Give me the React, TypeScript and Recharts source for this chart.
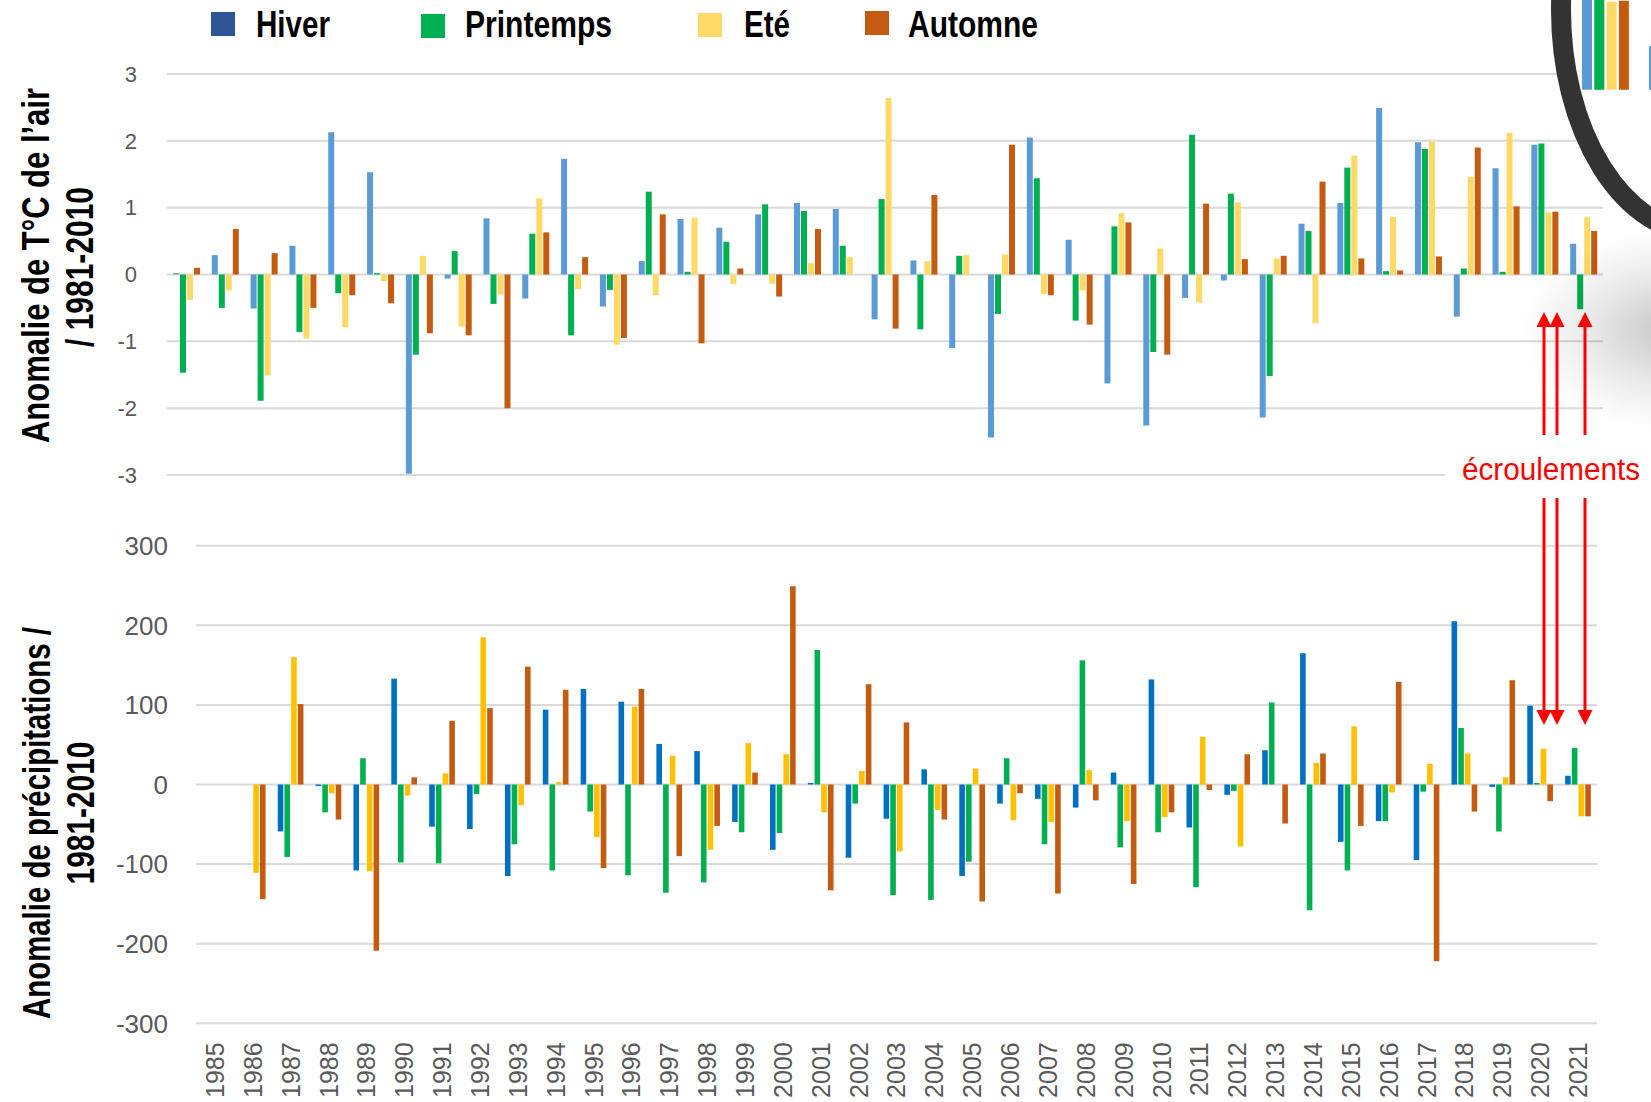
import React from "react";
import { BarChart, Bar, XAxis, YAxis, CartesianGrid } from "recharts";

// années (axe commun)
const years = [
  1985, 1986, 1987, 1988, 1989, 1990, 1991, 1992, 1993, 1994, 1995, 1996, 1997,
  1998, 1999, 2000, 2001, 2002, 2003, 2004, 2005, 2006, 2007, 2008, 2009, 2010,
  2011, 2012, 2013, 2014, 2015, 2016, 2017, 2018, 2019, 2020, 2021,
];

const seasons = ["Hiver", "Printemps", "Eté", "Automne"];
const keys = ["hiver", "printemps", "ete", "automne"];

// anomalie de température de l'air (°C) / 1981-2010
const tempHiver = [
  0.02, 0.29, -0.51, 0.43, 2.13, 1.53, -2.98, -0.06, 0.84, -0.36, 1.73, -0.48, 0.2,
  0.83, 0.7, 0.9, 1.07, 0.98, -0.67, 0.21, -1.1, -2.44, 2.05, 0.52, -1.63, -2.26,
  -0.35, -0.09, -2.14, 0.76, 1.07, 2.49, 1.98, -0.63, 1.59, 1.94, 0.46,
];
const tempPrintemps = [
  -1.47, -0.5, -1.89, -0.86, -0.28, 0.02, -1.2, 0.35, -0.44, 0.61, -0.91, -0.23, 1.24,
  0.04, 0.49, 1.05, 0.95, 0.43, 1.13, -0.82, 0.28, -0.59, 1.44, -0.69, 0.72, -1.16,
  2.09, 1.21, -1.52, 0.65, 1.6, 0.05, 1.88, 0.09, 0.04, 1.96, -0.52,
];
const tempEte = [
  -0.38, -0.24, -1.51, -0.96, -0.79, -0.1, 0.28, -0.78, -0.3, 1.14, -0.22, -1.05, -0.31,
  0.85, -0.14, -0.14, 0.17, 0.26, 2.64, 0.2, 0.29, 0.3, -0.29, -0.24, 0.92, 0.39,
  -0.42, 1.08, 0.24, -0.73, 1.78, 0.86, 1.99, 1.46, 2.12, 0.93, 0.86,
];
const tempAutomne = [
  0.1, 0.68, 0.32, -0.5, -0.31, -0.43, -0.88, -0.91, -2.0, 0.63, 0.26, -0.95, 0.9,
  -1.03, 0.09, -0.33, 0.68, 0, -0.81, 1.19, 0, 1.94, -0.31, -0.75, 0.78, -1.2,
  1.06, 0.23, 0.28, 1.39, 0.24, 0.06, 0.27, 1.9, 1.02, 0.94, 0.65,
];

// anomalie de précipitations (mm) / 1981-2010
const precipHiver = [
  null, null, -59, -2, -108, 133, -53, -56, -115, 94, 120, 104, 51,
  42, -47, -82, 2, -92, -43, 19, -115, -24, -18, -29, 15, 132,
  -54, -13, 43, 165, -72, -46, -95, 205, -3, 99, 11,
];
const precipPrintemps = [
  null, null, -91, -35, 33, -98, -99, -12, -75, -108, -34, -114, -136,
  -123, -60, -61, 169, -24, -139, -145, -97, 33, -75, 156, -79, -60,
  -129, -8, 103, -158, -108, -46, -9, 71, -59, 2, 46,
];
const precipEte = [
  null, -111, 160, -11, -109, -14, 14, 185, -26, 3, -66, 98, 36,
  -82, 52, 38, -35, 17, -84, -32, 20, -45, -47, 18, -46, -41,
  60, -78, 0, 27, 73, -10, 26, 39, 9, 45, -40,
];
const precipAutomne = [
  null, -144, 101, -44, -209, 9, 80, 96, 148, 119, -105, 120, -90,
  -52, 15, 249, -133, 126, 78, -44, -147, -11, -137, -20, -125, -35,
  -7, 38, -49, 39, -52, 129, -222, -34, 131, -21, -40,
];

const tempTicks = [-3, -2, -1, 0, 1, 2, 3];
const precipTicks = [-300, -200, -100, 0, 100, 200, 300];

const legendColors = ["#2F5597", "#00B050", "#FFD966", "#C55A11"];
const tempColors = ["#5B9BD5", "#00B050", "#FFD966", "#C55A11"];
const precipColors = ["#0070C0", "#00B050", "#FFC000", "#C55A11"];

const tempData = years.map((year, i) => ({
  year: String(year),
  hiver: tempHiver[i],
  printemps: tempPrintemps[i],
  ete: tempEte[i],
  automne: tempAutomne[i],
}));

const precipData = years.map((year, i) => ({
  year: String(year),
  hiver: precipHiver[i],
  printemps: precipPrintemps[i],
  ete: precipEte[i],
  automne: precipAutomne[i],
}));

const FONT = "'Liberation Sans', Arial, sans-serif";
const GRID = "#D9D9D9";
const TICK = "#595959";

// legend layout: [square x, square y, text x, text width]
const legendLayout = [
  [211, 12, 256, 74],
  [421, 14, 465, 147],
  [698, 13, 744, 46],
  [865, 11, 908, 130],
];

function YearTick(props: any) {
  const { x, y, payload } = props;
  return (
    <text
      x={x}
      y={y + 19}
      dy="0.36em"
      transform={`rotate(-90, ${x}, ${y + 19})`}
      textAnchor="end"
      fill={TICK}
      fontSize={25}
      fontFamily={FONT}
    >
      {payload.value}
    </text>
  );
}

function Arrow({ x, y1, y2 }: { x: number; y1: number; y2: number }) {
  // y2 is the tip
  const dir = y2 < y1 ? 1 : -1;
  const base = y2 + dir * 15;
  return (
    <g>
      <line x1={x} y1={y1} x2={x} y2={base} stroke="#FF0000" strokeWidth={3} />
      <polygon points={`${x},${y2} ${x - 7.5},${base} ${x + 7.5},${base}`} fill="#FF0000" />
    </g>
  );
}

export default function App() {
  return (
    <div
      style={{
        position: "fixed",
        left: 0,
        top: 0,
        width: 1651,
        height: 1102,
        overflow: "hidden",
        background: "#fff",
      }}
    >
      {/* température */}
      <div style={{ position: "absolute", left: 0, top: 0 }}>
        <BarChart
          width={1651}
          height={500}
          data={tempData}
          margin={{ top: 74, right: 48, bottom: 25, left: 107 }}
          barSize={6}
          barGap={1}
        >
          <CartesianGrid vertical={false} stroke={GRID} strokeWidth={2} />
          <XAxis dataKey="year" hide />
          <YAxis
            domain={[-3, 3]}
            ticks={tempTicks}
            width={60}
            axisLine={false}
            tickLine={false}
            tickSize={0}
            tickMargin={30}
            tick={{ fill: TICK, fontSize: 22, fontFamily: FONT }}
          />
          {keys.map((k, i) => (
            <Bar key={k} dataKey={k} name={seasons[i]} fill={tempColors[i]} isAnimationActive={false} />
          ))}
        </BarChart>
      </div>

      {/* précipitations */}
      <div style={{ position: "absolute", left: 0, top: 500 }}>
        <BarChart
          width={1651}
          height={602}
          data={precipData}
          margin={{ top: 45.7, right: 54, bottom: 8.7, left: 136 }}
          barSize={5.6}
          barGap={1.1}
        >
          <CartesianGrid vertical={false} stroke={GRID} strokeWidth={2} />
          <XAxis
            dataKey="year"
            interval={0}
            height={70}
            axisLine={false}
            tickLine={false}
            tickSize={0}
            tickMargin={0}
            tick={(p: any) => <YearTick {...p} />}
          />
          <YAxis
            domain={[-300, 300]}
            ticks={precipTicks}
            width={60}
            axisLine={false}
            tickLine={false}
            tickSize={0}
            tickMargin={28}
            tick={{ fill: TICK, fontSize: 26, fontFamily: FONT }}
          />
          {keys.map((k, i) => (
            <Bar key={k} dataKey={k} name={seasons[i]} fill={precipColors[i]} isAnimationActive={false} />
          ))}
        </BarChart>
      </div>

      {/* loupe : vue agrandie 2019-2021 */}
      <div
        style={{
          position: "absolute",
          left: 1450,
          top: -250,
          width: 400,
          height: 600,
          background: "#fff",
          clipPath: "ellipse(130px 213px at 251px 260px)",
        }}
      >
        <BarChart
          width={400}
          height={600}
          data={tempData.slice(34)}
          margin={{ top: 139, right: 144, bottom: 71, left: 55 }}
          barSize={10}
          barGap={2.3}
        >
          <CartesianGrid vertical={false} stroke={GRID} strokeWidth={2.5} />
          <XAxis dataKey="year" hide />
          <YAxis
            domain={[-2, 2]}
            ticks={[-2, -1, 0, 1, 2]}
            width={0}
            axisLine={false}
            tickLine={false}
            tick={false}
          />
          {keys.map((k, i) => (
            <Bar key={k} dataKey={k} fill={tempColors[i]} isAnimationActive={false} />
          ))}
        </BarChart>
      </div>

      {/* ombre de la loupe */}
      <div
        style={{
          position: "absolute",
          left: 1520,
          top: 230,
          width: 300,
          height: 200,
          background:
            "radial-gradient(ellipse at center, rgba(0,0,0,0.22) 0%, rgba(0,0,0,0.08) 40%, rgba(0,0,0,0) 70%)",
        }}
      />

      <svg
        width={1651}
        height={1102}
        style={{ position: "absolute", left: 0, top: 0 }}
      >
        {/* cercle de la loupe */}
        <ellipse cx={1701} cy={10} rx={140} ry={223} fill="none" stroke="#333" strokeWidth={20} />

        {/* légende */}
        {seasons.map((s, i) => {
          const [sx, sy, tx, tw] = legendLayout[i];
          return (
            <g key={s}>
              <rect x={sx} y={sy} width={24} height={24} fill={legendColors[i]} />
              <text
                x={tx}
                y={37}
                fontSize={37}
                fontWeight="bold"
                fontFamily={FONT}
                fill="#000"
                textLength={tw}
                lengthAdjust="spacingAndGlyphs"
              >
                {s}
              </text>
            </g>
          );
        })}

        {/* titres des axes */}
        <g fontFamily={FONT} fontWeight="bold" fontSize={38} fill="#000" textAnchor="middle">
          <text x={36} y={265.5} dy="0.35em" transform="rotate(-90, 36, 265.5)" textLength={355} lengthAdjust="spacingAndGlyphs">
            Anomalie de T°C de l’air
          </text>
          <text x={80} y={267} dy="0.35em" transform="rotate(-90, 80, 267)" textLength={160} lengthAdjust="spacingAndGlyphs">
            / 1981-2010
          </text>
          <text x={37} y={823} dy="0.35em" transform="rotate(-90, 37, 823)" textLength={392} lengthAdjust="spacingAndGlyphs">
            Anomalie de précipitations /
          </text>
          <text x={81} y={813} dy="0.35em" transform="rotate(-90, 81, 813)" textLength={143} lengthAdjust="spacingAndGlyphs">
            1981-2010
          </text>
        </g>

        {/* annotation */}
        <rect x={1445} y={440} width={206} height={55} fill="#fff" />
        <text
          x={1462}
          y={480}
          fontSize={31}
          fontFamily={FONT}
          fill="#FF0000"
          textLength={178}
          lengthAdjust="spacingAndGlyphs"
        >
          écroulements
        </text>
        <Arrow x={1544} y1={435} y2={312} />
        <Arrow x={1557} y1={435} y2={312} />
        <Arrow x={1585} y1={435} y2={312} />
        <Arrow x={1544} y1={498} y2={725} />
        <Arrow x={1557} y1={498} y2={725} />
        <Arrow x={1585} y1={498} y2={725} />
      </svg>
    </div>
  );
}
